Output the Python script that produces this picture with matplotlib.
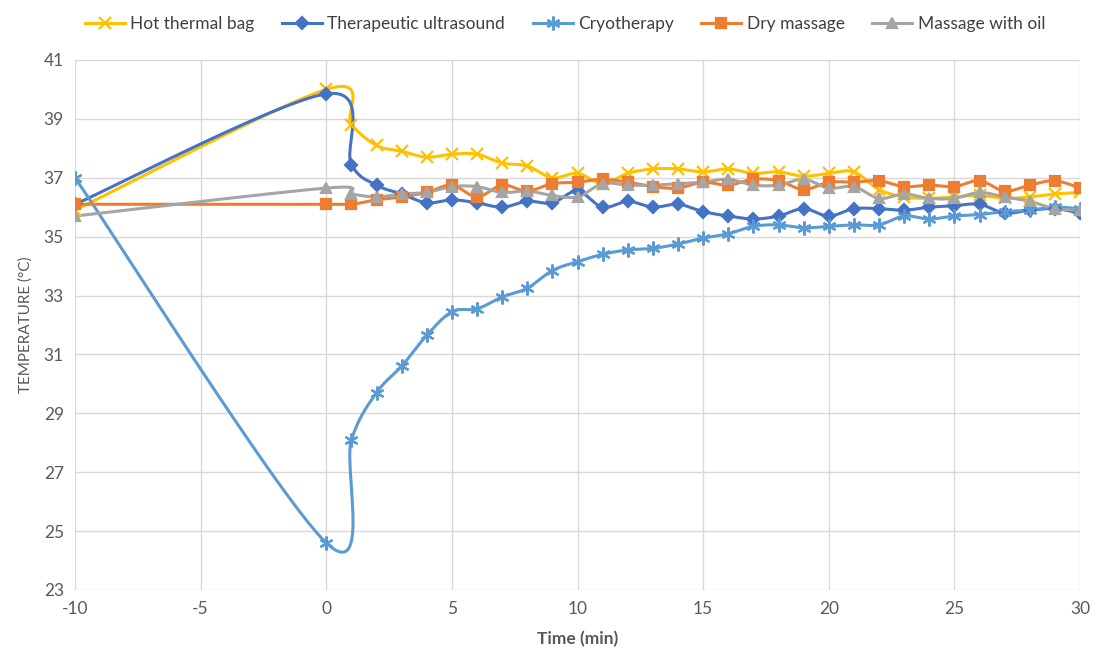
import numpy as np
import matplotlib
matplotlib.use("Agg")
import matplotlib.pyplot as plt

plt.rcParams['font.family'] = ['Lato', 'DejaVu Sans']
plt.rcParams['axes.unicode_minus'] = False

# time points (min)
time = [-10] + list(range(0, 31))

hot_bag = [35.9, 40.0, 38.8, 38.1, 37.9, 37.7, 37.8, 37.8, 37.5, 37.4, 37.0, 37.15,
           36.8, 37.15, 37.3, 37.3, 37.2, 37.3, 37.15, 37.2, 37.05, 37.15, 37.2,
           36.6, 36.35, 36.3, 36.35, 36.4, 36.3, 36.35, 36.45, 36.5]
ultrasound = [36.1, 39.85, 37.45, 36.75, 36.45, 36.15, 36.25, 36.15, 36.0, 36.2, 36.15, 36.55,
              36.0, 36.2, 36.0, 36.1, 35.85, 35.7, 35.6, 35.7, 35.95, 35.7, 35.95,
              35.95, 35.9, 36.0, 36.05, 36.1, 35.8, 35.9, 35.95, 35.8]
cryo = [37.0, 24.6, 28.1, 29.7, 30.6, 31.65, 32.45, 32.55, 32.95, 33.25, 33.85, 34.15,
        34.4, 34.55, 34.6, 34.75, 34.95, 35.1, 35.35, 35.4, 35.3, 35.35, 35.4,
        35.4, 35.7, 35.6, 35.7, 35.75, 35.85, 35.9, 36.0, 35.95]
dry = [36.1, 36.1, 36.1, 36.25, 36.35, 36.5, 36.75, 36.35, 36.75, 36.55, 36.8, 36.85,
       36.95, 36.85, 36.7, 36.65, 36.85, 36.75, 36.95, 36.9, 36.6, 36.85, 36.85,
       36.9, 36.7, 36.75, 36.7, 36.9, 36.55, 36.75, 36.9, 36.65]
oil = [35.7, 36.65, 36.45, 36.35, 36.45, 36.5, 36.7, 36.7, 36.5, 36.55, 36.4, 36.35,
       36.8, 36.75, 36.75, 36.8, 36.85, 36.95, 36.75, 36.75, 36.95, 36.65, 36.7,
       36.3, 36.45, 36.3, 36.3, 36.5, 36.35, 36.2, 35.95, 35.9]

labels = ["Hot thermal bag", "Therapeutic ultrasound", "Cryotherapy", "Dry massage", "Massage with oil"]
series = [hot_bag, ultrasound, cryo, dry, oil]
colors = ["#FFC000", "#4472C4", "#5B9BD5", "#ED7D31", "#A5A5A5"]
markers = ["x", "D", (6, 2, 0), "s", "^"]
msizes = [9, 6, 10, 7, 7]


def smooth(xs, ys, n=30):
    # excel-like smoothed line: cubic bezier with catmull-rom handles
    p = np.column_stack([xs, ys]).astype(float)
    out = [p[0]]
    for i in range(len(p) - 1):
        p0 = p[i - 1] if i > 0 else p[i]
        p3 = p[i + 2] if i + 2 < len(p) else p[i + 1]
        c1 = p[i] + (p[i + 1] - p0) / 6
        c2 = p[i + 1] - (p3 - p[i]) / 6
        t = np.linspace(0, 1, n)[1:, None]
        seg = ((1 - t) ** 3) * p[i] + 3 * ((1 - t) ** 2) * t * c1 + 3 * (1 - t) * t ** 2 * c2 + t ** 3 * p[i + 1]
        out.extend(seg)
    out = np.array(out)
    return out[:, 0], out[:, 1]


fig = plt.figure(figsize=(10.97, 6.57), dpi=100)
ax = fig.add_axes([0.0684, 0.102, 0.9161, 0.8067])

for ys, lab, c, m, ms in zip(series, labels, colors, markers, msizes):
    sx, sy = smooth(time, ys)
    ax.plot(sx, sy, color=c, lw=2.2, zorder=3)
    ax.plot(time, ys, ls="none", marker=m, color=c, ms=ms, mew=1.6, zorder=4)
    ax.plot([], [], color=c, lw=2.2, marker=m, ms=ms, mew=1.6, label=lab)

ax.set_xlim(-10, 30)
ax.set_ylim(23, 41)
ax.set_xticks(range(-10, 31, 5))
ax.set_yticks(range(23, 42, 2))
ax.grid(True, color="#D9D9D9", lw=1)
ax.set_axisbelow(True)
for s in ax.spines.values():
    s.set_visible(False)
ax.tick_params(length=0, labelsize=12.5, colors="#595959", pad=8)

ax.set_xlabel("Time (min)", fontsize=12.5, fontweight="bold", color="#595959", labelpad=10)
ax.set_ylabel("TEMPERATURE (°C)", fontsize=11, color="#595959", labelpad=8)

fig.legend(loc="upper center", bbox_to_anchor=(0.515, 1.0), ncol=5, frameon=False,
           fontsize=12.5, handlelength=2.3, columnspacing=1.6, handletextpad=0.3,
           labelcolor="#404040")

fig.savefig("out.png", dpi=100, facecolor="white")
